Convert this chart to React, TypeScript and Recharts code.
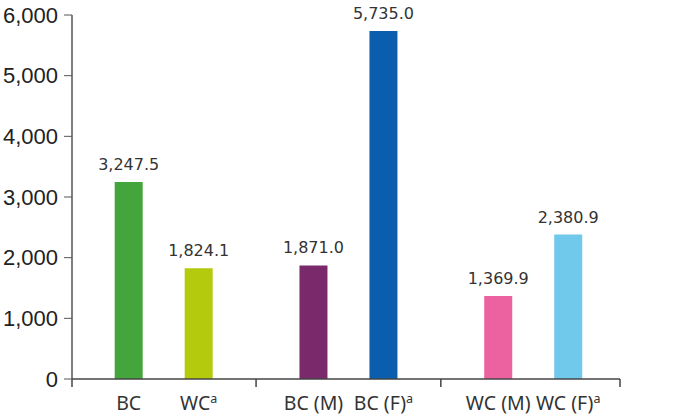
import { BarChart, Bar, XAxis, YAxis, Cell, LabelList } from "recharts";

const categories = ["BC", "WC", "BC (M)", "BC (F)", "WC (M)", "WC (F)"];
const superscripts = ["", "a", "", "a", "", "a"];
const values = [3247.5, 1824.1, 1871.0, 5735.0, 1369.9, 2380.9];
const colors = ["#43a53b", "#b3cb0c", "#7a2a6a", "#0b5ead", "#ec62a1", "#70c8ea"];
const yTicks = [0, 1000, 2000, 3000, 4000, 5000, 6000];

// bars sit in pairs; each pair is shifted by GROUP_STEP slots
const GROUP_STEP = 2.64;
const data = categories.map((name, i) => ({
  name,
  sup: superscripts[i],
  value: values[i],
  pos: Math.floor(i / 2) * GROUP_STEP + (i % 2),
}));

const DOMAIN: [number, number] = [-0.81, 7.02];
const separators = [DOMAIN[0], 1.82, 4.46, DOMAIN[1]];
const xTicks = [...separators, ...data.map((d) => d.pos)].sort((a, b) => a - b);

const fmt = (v: number) =>
  v.toLocaleString("en-US", { minimumFractionDigits: 1, maximumFractionDigits: 1 });

function CategoryTick(props: any) {
  const { x, y, payload } = props;
  if (separators.some((s) => Math.abs(s - payload.value) < 1e-6)) {
    return <line x1={x} x2={x} y1={y - 8} y2={y} stroke="#444" strokeWidth={1.5} />;
  }
  const item = data.find((d) => Math.abs(d.pos - payload.value) < 1e-6);
  if (!item) return <g />;
  return (
    <text
      x={x}
      y={y}
      textAnchor="middle"
      fill="#333"
      fontSize={19.5}
      fontFamily="'Noto Sans', sans-serif"
    >
      <tspan dy={23}>{item.name}</tspan>
      {item.sup && (
        <tspan dy={-7} fontSize={12.5}>
          {item.sup}
        </tspan>
      )}
    </text>
  );
}

export default function App() {
  return (
    <div style={{ position: "fixed", left: 0, top: 0, background: "#fff" }}>
      <BarChart
        width={687}
        height={420}
        data={data}
        margin={{ top: 15, right: 67, bottom: 0, left: 0 }}
      >
        <XAxis
          type="number"
          dataKey="pos"
          domain={DOMAIN}
          ticks={xTicks}
          interval={0}
          height={41}
          axisLine={{ stroke: "#444", strokeWidth: 1.5 }}
          tickLine={false}
          tickSize={8}
          tickMargin={0}
          tick={<CategoryTick />}
          allowDataOverflow
        />
        <YAxis
          domain={[0, 6000]}
          ticks={yTicks}
          width={72}
          interval={0}
          tickFormatter={(v: number) => v.toLocaleString("en-US")}
          axisLine={{ stroke: "#555", strokeWidth: 1.5 }}
          tickLine={{ stroke: "#555" }}
          tickSize={8}
          tickMargin={6}
          tick={{ fill: "#222", fontSize: 22, fontFamily: "'Liberation Sans', Arial, sans-serif" }}
        />
        <Bar dataKey="value" barSize={28} isAnimationActive={false}>
          {data.map((d, i) => (
            <Cell key={d.name} fill={colors[i]} />
          ))}
          <LabelList
            dataKey="value"
            position="top"
            offset={12}
            formatter={(v: any) => fmt(Number(v))}
            fill="#333"
            fontSize={16}
            fontFamily="'DejaVu Sans', sans-serif"
          />
        </Bar>
      </BarChart>
    </div>
  );
}
